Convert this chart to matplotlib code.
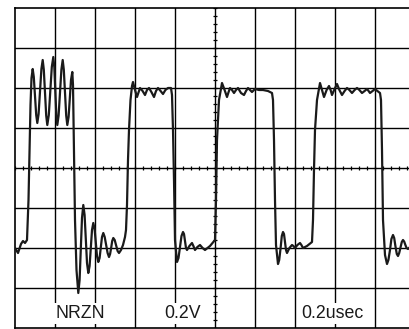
"""Oscilloscope capture of an NRZ signal with ringing (0.2 V/div, 0.2 usec/div)."""

import matplotlib
matplotlib.use("Agg")
import matplotlib.pyplot as plt
import numpy as np

# trace: time in ns, amplitude in mV (one row per stretch of the trace)
TIME_NS = [
    0, 15, 30, 40, 50, 60, 67.5, 72.5, 77.5, 82.5, 88.5, 94, 100, 106, 111.5,
    118, 125, 132, 138.5, 144, 150, 156, 161.5, 169, 176.5, 184, 191.5, 196.5,
    201.5, 206.5, 211.5, 218, 225, 232, 238.5, 244, 250, 256, 261.5, 268, 274,
    280, 286.5, 290, 292.5, 296, 300, 307.5,
    316.5, 323, 329, 335, 341.5, 348, 354, 360, 366.5, 373, 379, 385, 391.5,
    398, 404, 410, 416.5, 423, 429, 435, 441.5, 448.5, 456, 463, 470, 475.5,
    481, 486, 491.5, 498.5, 506, 513, 520, 530, 540, 550, 555, 560, 565, 570,
    577.5, 585, 590,
    600, 610, 625, 638, 650, 660, 670, 682, 695, 705, 715, 728, 740, 752, 765,
    780, 785, 790, 795, 800,
    810, 817.5, 825, 832.5, 840, 845, 850, 855, 860, 872, 885, 892, 900, 912,
    925, 938, 950, 975, 1000, 1005, 1010, 1020,
    1035, 1048, 1060, 1068, 1075, 1085, 1095, 1105, 1115, 1130, 1145, 1155,
    1165, 1175, 1185, 1200, 1220, 1240, 1265, 1285, 1290, 1295, 1300, 1305,
    1315, 1321, 1328, 1334, 1340, 1345, 1350, 1355, 1360, 1372, 1385, 1392,
    1400, 1412, 1425, 1432, 1440, 1460, 1485, 1490, 1495, 1500, 1510,
    1525, 1535, 1545, 1558, 1570, 1578, 1585, 1598, 1610, 1622, 1635, 1648,
    1660, 1672, 1685, 1698, 1710, 1722, 1735, 1748, 1760, 1768, 1775, 1788,
    1800, 1812, 1825, 1830, 1835, 1840, 1850,
    1860, 1867, 1875, 1882, 1890, 1896, 1902, 1909, 1915, 1921, 1928, 1934,
    1940, 1946, 1952, 1958, 1965, 1975,
]
VOLT_MV = [
    -400, -425, -380, -365, -375, -360, -160, 90, 315, 450, 495, 455, 360, 265,
    225, 270, 382, 495, 540, 492, 378, 262, 215, 265, 385, 505, 555, 505, 385,
    265, 215, 262, 378, 492, 540, 492, 378, 262, 215, 255, 348, 440, 480, 415,
    240, 15, -260, -510,
    -625, -560, -405, -250, -185, -235, -355, -475, -525, -490, -400, -310,
    -275, -305, -372, -440, -470, -450, -398, -345, -325, -345, -385, -425,
    -445, -430, -398, -365, -350, -360, -388, -415, -425, -410, -385, -345,
    -310, -185, 40, 190, 340, 410, 430,
    390, 355, 400, 385, 365, 390, 400, 380, 355, 385, 400, 385, 370, 390, 400,
    400, 365, 190, -60, -360,
    -470, -450, -395, -340, -320, -330, -365, -400, -410, -390, -375, -390,
    -410, -395, -385, -400, -410, -390, -360, -160, 140, 340,
    425, 390, 355, 380, 400, 390, 375, 390, 400, 375, 365, 385, 400, 390, 380,
    395, 390, 390, 385, 375, 340, 140, -160, -385,
    -480, -460, -400, -340, -320, -330, -370, -410, -425, -400, -385, -390,
    -400, -385, -375, -385, -400, -390, -370, -260, -10, 190, 340,
    425, 390, 355, 390, 410, 390, 365, 395, 420, 390, 365, 385, 400, 390, 375,
    390, 400, 390, 375, 385, 395, 385, 375, 385, 395, 385, 375, 340, 90, -260,
    -435,
    -480, -460, -410, -355, -335, -350, -390, -430, -440, -425, -395, -370,
    -360, -368, -385, -400, -405, -395,
]
assert len(TIME_NS) == len(VOLT_MV)

LABELS = ["NRZN", "0.2V", "0.2usec"]
LABEL_T = [325, 840, 1585]

DIV_T = 200   # ns per division
DIV_V = 200   # mV per division
INK = "#1a1a1a"

fig = plt.figure(figsize=(4.10, 3.29), dpi=100)
ax = fig.add_axes([15 / 410, 1 / 329, 400 / 410, 320 / 329])
ax.set_xlim(0, 10 * DIV_T)
ax.set_ylim(-4 * DIV_V, 4 * DIV_V)
ax.set_xticks([])
ax.set_yticks([])

# graticule
for t in np.arange(DIV_T, 10 * DIV_T, DIV_T):
    ax.axvline(t, color="black", lw=1.0, zorder=1)
for v in np.arange(-3 * DIV_V, 4 * DIV_V, DIV_V):
    ax.axhline(v, color="black", lw=1.0, zorder=1)
for side in ["left", "top", "bottom", "right"]:
    ax.spines[side].set_linewidth(1.2)

# minor ticks on the centre lines
minor_t = np.arange(0, 10 * DIV_T + 1, DIV_T / 5)
minor_v = np.arange(-4 * DIV_V, 4 * DIV_V + 1, DIV_V / 5)
ax.vlines(minor_t, -12, 12, color="black", lw=0.9, zorder=1)
ax.hlines(minor_v, 5 * DIV_T - 12, 5 * DIV_T + 12, color="black", lw=0.9, zorder=1)

ax.plot(TIME_NS, VOLT_MV, color=INK, lw=1.6, solid_joinstyle="round", zorder=3)

for label, t in zip(LABELS, LABEL_T):
    ax.text(t, -750, label, ha="center", va="baseline", fontsize=12.8,
            family="Liberation Sans", color=INK, zorder=4,
            bbox=dict(facecolor="white", edgecolor="none", pad=1.5))

fig.savefig("out.png", dpi=100)
